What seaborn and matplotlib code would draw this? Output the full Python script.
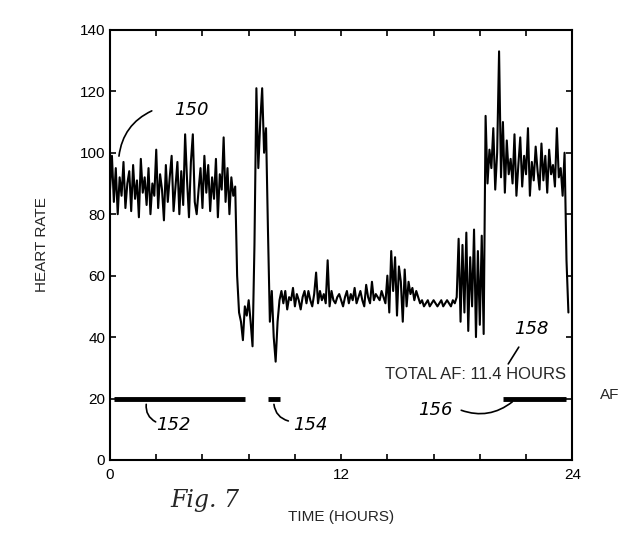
import numpy as np
import pandas as pd
import matplotlib
matplotlib.use("Agg")
import matplotlib.pyplot as plt
import seaborn as sns

# Heart rate samples, one every 0.1 hour
heart_rate = [
    88, 99, 84, 95, 80, 92, 86, 97, 82, 90,
    94, 81, 96, 85, 91, 79, 98, 87, 92, 83,
    95, 80, 90, 86, 101, 82, 93, 88, 78, 96,
    84, 92, 99, 81, 89, 97, 80, 94, 83, 106,
    91, 79, 97, 106, 84, 80, 88, 95, 82, 99,
    87, 96, 81, 92, 85, 98, 79, 93, 88, 105,
    84, 95, 80, 92, 86, 89, 60, 48, 45, 39,
    50, 47, 52, 45, 37, 70, 121, 95, 110, 121,
    100, 108, 75, 45, 55, 40, 32, 45, 52, 55,
    51, 55, 49, 53, 52, 56, 50, 54, 52, 49,
    53, 55, 51, 55, 52, 50, 54, 61, 51, 55,
    52, 54, 51, 65, 50, 55, 52, 51, 53, 54,
    52, 50, 53, 55, 51, 54, 52, 56, 51, 53,
    55, 52, 50, 57, 53, 51, 58, 52, 54, 53,
    52, 55, 53, 51, 60, 48, 68, 55, 66, 47,
    63, 58, 45, 62, 50, 58, 54, 56, 52, 55,
    53, 51, 52, 50, 51, 52, 50, 51, 52, 51,
    50, 51, 52, 50, 51, 52, 51, 50, 52, 51,
    53, 72, 45, 70, 48, 74, 42, 66, 50, 75,
    40, 68, 44, 73, 41, 112, 90, 101, 95, 108,
    88, 100, 133, 92, 110, 87, 104, 93, 98, 90,
    106, 86, 96, 105, 89, 99, 93, 108, 86, 97,
    91, 102, 94, 88, 103, 91, 99, 87, 101, 93,
    96, 89, 108, 92, 95, 86, 100, 65, 48,
]
sample_step_hours = 0.1
time_hours = np.round(np.arange(len(heart_rate)) * sample_step_hours, 2)

# AF episodes (start, end hours) drawn at level 20
af_start = [0.2, 8.2, 20.4]
af_end = [7.0, 8.8, 23.7]
af_level = 20
af_labels = ["152", "154", "156"]

x_tick_labels = ["0", "12", "24"]
y_ticks = [0, 20, 40, 60, 80, 100, 120, 140]

sns.set_style("ticks")
plt.rcParams["font.family"] = ["Liberation Sans", "DejaVu Sans"]

fig = plt.figure(figsize=(6.18, 5.33), dpi=100)
ax = fig.add_axes([0.178, 0.137, 0.748, 0.807])

df = pd.DataFrame({"time": time_hours, "hr": heart_rate})
sns.lineplot(data=df, x="time", y="hr", ax=ax, color="black", linewidth=1.5,
             estimator=None, sort=False)

for i, (s, e) in enumerate(zip(af_start, af_end)):
    seg = pd.DataFrame({"time": [s, e], "hr": [af_level, af_level]})
    sns.lineplot(data=seg, x="time", y="hr", ax=ax, color="black",
                 linewidth=3.5, estimator=None, solid_capstyle="butt")

ax.set_xlim(0, 24)
ax.set_ylim(0, 140)
ax.set_xticks([0, 12, 24])
ax.set_xticklabels(x_tick_labels)
ax.set_xticks(np.arange(0, 24.01, 2.4), minor=True)
ax.set_yticks(y_ticks)
ax.tick_params(axis="both", which="both", direction="in", top=True, right=True,
               length=4, width=1.2, labelsize=11, colors="black")
ax.tick_params(axis="x", which="major", pad=6)
for sp in ax.spines.values():
    sp.set_linewidth(1.5)
    sp.set_color("black")
    sp.set_visible(True)

ax.set_xlabel("TIME (HOURS)", fontsize=11, labelpad=20)
ax.set_ylabel("HEART RATE", fontsize=11, labelpad=22)

ax.text(19.0, 27.7, "TOTAL AF: 11.4 HOURS", fontsize=12, ha="center", va="center")
fig.text(600 / 618, 1 - 395 / 533, "AF", fontsize=11, ha="left", va="center")

hand = dict(fontsize=13, style="italic", family="DejaVu Sans", color="black")
ax.text(4.2, 114, "150", ha="center", va="center", **hand)
ax.annotate("", xy=(0.45, 98), xytext=(2.3, 114),
            arrowprops=dict(arrowstyle="-", color="black", lw=1.2,
                            connectionstyle="arc3,rad=0.3"))
ax.text(3.3, 11.4, "152", ha="center", va="center", **hand)
ax.annotate("", xy=(1.9, 19), xytext=(2.5, 12),
            arrowprops=dict(arrowstyle="-", color="black", lw=1.2,
                            connectionstyle="arc3,rad=-0.4"))
ax.text(10.4, 11.4, "154", ha="center", va="center", **hand)
ax.annotate("", xy=(8.5, 19), xytext=(9.4, 12.5),
            arrowprops=dict(arrowstyle="-", color="black", lw=1.2,
                            connectionstyle="arc3,rad=-0.4"))
ax.text(16.9, 16.3, "156", ha="center", va="center", **hand)
ax.annotate("", xy=(21.0, 19.5), xytext=(18.1, 16.5),
            arrowprops=dict(arrowstyle="-", color="black", lw=1.2,
                            connectionstyle="arc3,rad=0.3"))
ax.text(21.9, 42.5, "158", ha="center", va="center", **hand)
ax.annotate("", xy=(20.6, 30.5), xytext=(21.3, 37.5),
            arrowprops=dict(arrowstyle="-", color="black", lw=1.2,
                            connectionstyle="arc3,rad=0.0"))
fig.text(205 / 618, 1 - 500 / 533, "Fig. 7", fontsize=17, style="italic",
         family="DejaVu Serif", ha="center", va="center")

fig.savefig("out.png", dpi=100)
